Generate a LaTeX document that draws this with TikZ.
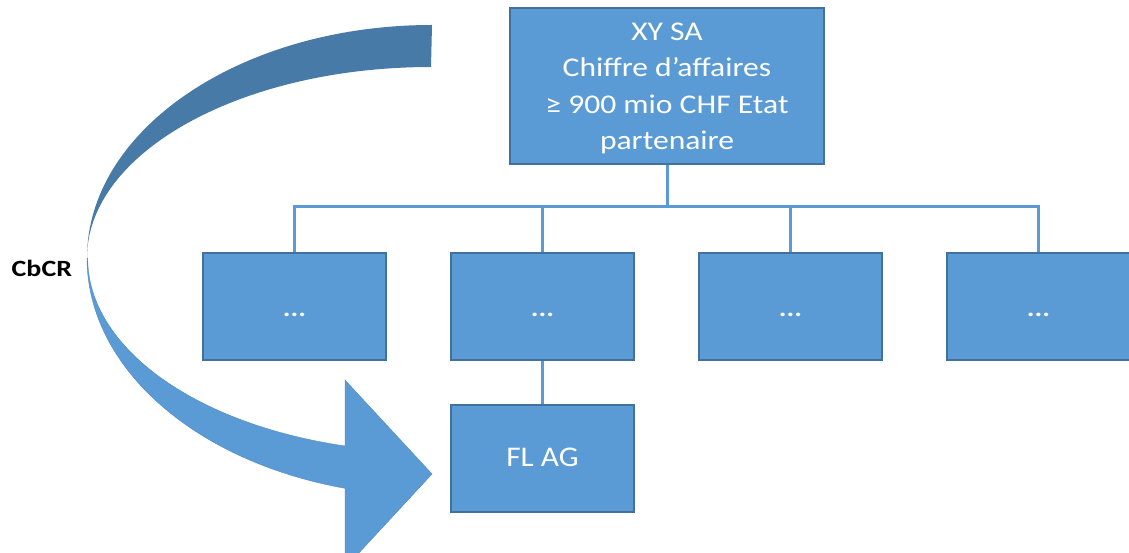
\documentclass[tikz,border=0pt]{standalone}
\usepackage{fontspec}
\setmainfont{Carlito}
\newfontfamily\topfont[FakeStretch=1.17]{Carlito}
\newfontfamily\flfont[FakeStretch=1.1]{Carlito}
\newfontfamily\widefont[FakeStretch=1.2]{Carlito}
\definecolor{boxfill}{HTML}{5B9BD5}
\definecolor{boxline}{HTML}{41719C}
\definecolor{arrowdark}{HTML}{487AA7}
\definecolor{arrowlight}{HTML}{5B9BD5}
\begin{document}
\begin{tikzpicture}[x=1pt,y=1pt,
  orgbox/.style={rectangle, fill=boxfill, draw=boxline, line width=1.5pt,
    text=white, inner sep=0pt, align=center},
  rowbox/.style={orgbox, minimum width=183, minimum height=107,
    text height=19, text depth=0,
    font={\widefont\fontsize{24}{28}\selectfont\bfseries}},
  link/.style={draw=boxfill, line width=3pt}]
\useasboundingbox (0,0) rectangle (1129,-553);
\clip (0,0) rectangle (1129,-553);
\fill[white] (0,0) rectangle (1129,-553);

% curved arrow: darker back band on top, lighter front band with head below
\fill[arrowdark] (432,-25) arc[start angle=90, end angle=180, x radius=345, y radius=233]
  arc[start angle=180, end angle=90, x radius=344, y radius=191] -- cycle;
\fill[arrowlight, draw=arrowlight!90!black, line width=0.4pt]
  (87,-258) arc[start angle=180, end angle=255.4, x radius=345, y radius=238]
  -- (345,-568) -- (432,-474) -- (345,-380) -- (345,-446)
  arc[start angle=255.4, end angle=180, x radius=344, y radius=194] -- cycle;

\node[font={\widefont\fontsize{23.3}{27}\selectfont\bfseries}, anchor=base west,
  inner sep=0pt] (cbcr) at (11.5,-276.7) {CbCR};

% organisation chart
\node[orgbox, minimum width=314, minimum height=156] (top) at (667,-86) {};
\node[text=white, align=center, inner sep=0pt,
  font={\topfont\fontsize{27}{36.5}\selectfont}] (toptext) at ([yshift=-2.4]top.center)
  {XY SA\\Chiffre d’affaires\\≥ 900 mio CHF Etat\\partenaire};
\node[rowbox] (b1) at (294.5,-306.5) {...};
\node[rowbox] (b2) at (542.5,-306.5) {...};
\node[rowbox] (b3) at (790.5,-306.5) {...};
\node[rowbox] (b4) at (1038.5,-306.5) {...};
\node[orgbox, minimum width=183, minimum height=107, text height=16.4, text depth=0,
  font={\flfont\fontsize{28.5}{34}\selectfont}] (fl) at (542.5,-458.5) {FL AG};

\coordinate (bus) at (0,-207);
\path[link] (top.south) -- (top.south |- bus);
\path[link] (b1.north) -- (b1.north |- bus) -- (b4.north |- bus) -- (b4.north);
\path[link] (b2.north) -- (b2.north |- bus);
\path[link] (b3.north) -- (b3.north |- bus);
\path[link] (b2.south) -- (fl.north);
\end{tikzpicture}
\end{document}
